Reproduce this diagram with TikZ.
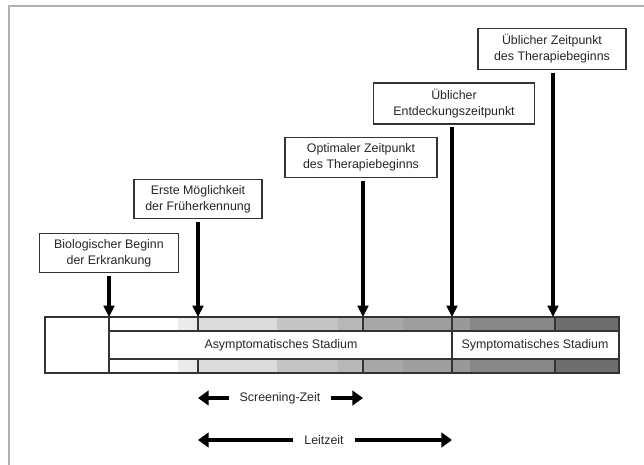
\documentclass[tikz,border=0pt]{standalone}
\usepackage{fontspec}
\setmainfont{Liberation Sans}
\usetikzlibrary{arrows.meta, positioning}
\colorlet{frameColor}{black!30}
\colorlet{drawColor}{black!80}
\colorlet{textColor}{black!85}
\tikzstyle{box}=[draw=drawColor, line width=0.9pt, fill=white, align=center, inner xsep=6pt, inner ysep=4.5pt, text=textColor, font=\fontsize{9.3}{12}\selectfont]
\tikzstyle{arrow}=[-{Triangle[width=8pt,length=8.5pt]}, line width=2.6pt, draw=black, shorten <=2pt]
\tikzstyle{span}=[-{Triangle[width=11pt,length=8pt]}, line width=3pt, draw=black]
\tikzstyle{spantext}=[inner xsep=8pt, text=textColor, font=\fontsize{9.3}{12}\selectfont]
\tikzstyle{stage}=[text=textColor, font=\fontsize{9.3}{12}\selectfont]
\tikzstyle{bar}=[draw=drawColor, line width=0.8pt]

\begin{document}
\begin{tikzpicture}[x=0.75pt, y=-0.75pt]
  \useasboundingbox (0,0) rectangle (644,465);
  % frame
  \draw[frameColor, line width=1.2pt] (9,465) -- (9,6) -- (644,6);
  % shaded strips of the time bar
  \foreach \a/\b/\g in {109/178/0, 178/198/8, 198/277/14, 277/338/23, 338/363/28,
      363/403/34, 403/452/38, 452/470/40, 470/555/47, 555/619/57} {
    \fill[black!\g] (\a,317) rectangle (\b,331);
    \fill[black!\g] (\a,359) rectangle (\b,373);
  }
  \draw[bar] (45,317) rectangle (619,373);
  \draw[bar] (109,331) -- (619,331) (109,359) -- (619,359);
  \foreach \x in {109,452} \draw[bar] (\x,317) -- (\x,373);
  \foreach \x in {198,363,555} {
    \draw[bar] (\x,317) -- (\x,331);
    \draw[bar] (\x,359) -- (\x,373);
  }
  \node[stage] (asym) at (281,345) {Asymptomatisches Stadium};
  \node[stage] (sym) at (535,345) {Symptomatisches Stadium};
  % points in time
  \coordinate (bioTip) at (109,317);
  \coordinate (earlyTip) at (198,317);
  \coordinate (optTip) at (363,317);
  \coordinate (findTip) at (452,317);
  \coordinate (usualTip) at (553,317);
  \node[box, minimum width=104pt] (beginn) at (109,253) {Biologischer Beginn\\der Erkrankung};
  \node[box, minimum width=96pt] (early) at (198,199) {Erste Möglichkeit\\der Früherkennung};
  \node[box, minimum width=114pt] (optimal) at (361,157.5) {Optimaler Zeitpunkt\\des Therapiebeginns};
  \node[box, minimum width=121pt] (finding) at (454,103.5) {Üblicher\\Entdeckungszeitpunkt};
  \node[box, minimum width=111pt] (usual) at (552,49) {Üblicher Zeitpunkt\\des Therapiebeginns};
  \draw[arrow] (beginn) -- (bioTip);
  \draw[arrow] (early) -- (earlyTip);
  \draw[arrow] (optimal.south -| optTip) -- (optTip);
  \draw[arrow] (finding.south -| findTip) -- (findTip);
  \draw[arrow] (usual.south -| usualTip) -- (usualTip);
  % spans
  \node[spantext] (screening) at (280,398) {Screening-Zeit};
  \coordinate (screenL) at (198,398);
  \coordinate (screenR) at (363,398);
  \draw[span] (screening) -- (screenL);
  \draw[span] (screening) -- (screenR);
  \node[spantext] (lead) at (324,440) {Leitzeit};
  \coordinate (leadL) at (198,440);
  \coordinate (leadR) at (452,440);
  \draw[span] (lead) -- (leadL);
  \draw[span] (lead) -- (leadR);
\end{tikzpicture}
\end{document}
